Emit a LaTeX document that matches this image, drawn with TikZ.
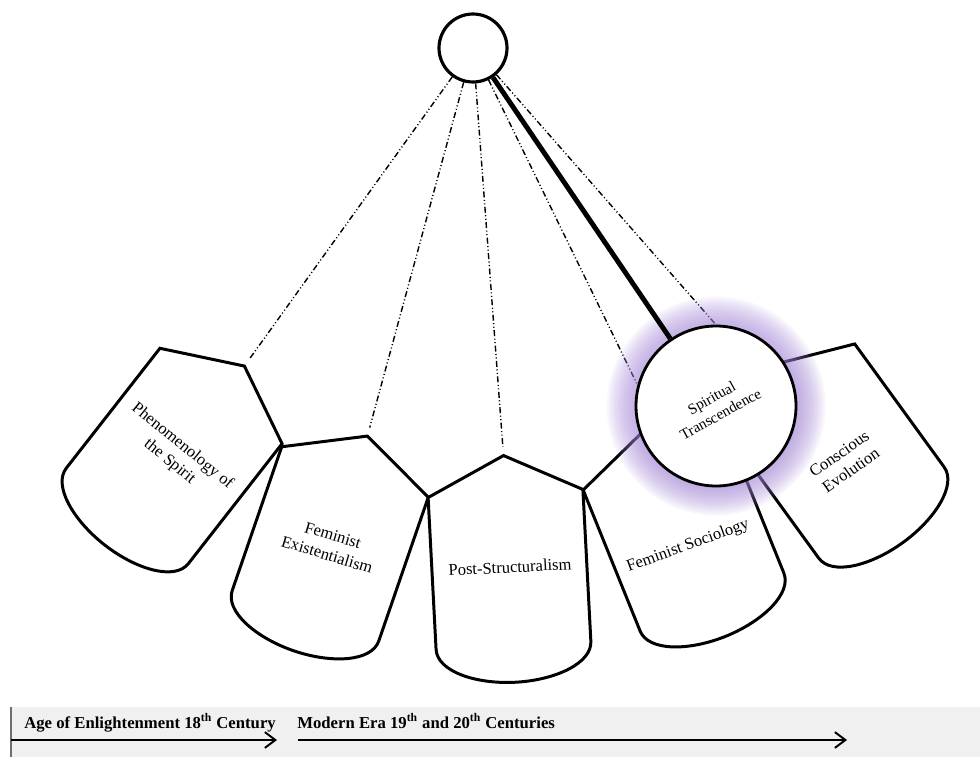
\documentclass[tikz,border=0pt]{standalone}
\usepackage{fontspec}
\setmainfont{Liberation Serif}
\usetikzlibrary{arrows.meta}
\definecolor{glowviolet}{RGB}{165,135,215}
\definecolor{barfill}{RGB}{240,240,240}
\definecolor{barline}{RGB}{110,110,110}
\begin{document}
\begin{tikzpicture}[x=0.02cm, y=-0.02cm,
    cardline/.style={draw, fill=white, line width=1.7pt},
    card/.pic={
      \path[cardline] (-77.5,0) -- (#1,-38) coordinate (-peak) -- (77.5,0) -- (77.5,152)
        .. controls (77.5,174) and (40,189) .. (0,189)
        .. controls (-40,189) and (-77.5,174) .. (-77.5,152) -- cycle;
    },
    cardtext/.style={align=center, inner sep=0pt, font=\fontsize{9.4}{11.5}\selectfont},
    pendline/.style={line width=0.8pt, shorten >=5pt,
      dash pattern=on 3.4pt off 1.4pt on 0.6pt off 1.4pt on 0.6pt off 1.4pt},
    eralabel/.style={anchor=base west, inner sep=0pt, font=\fontsize{9.5}{11}\selectfont\bfseries},
    eraarrow/.style={line width=1.1pt, -{Straight Barb[length=6pt,width=9pt]}}]
  \useasboundingbox (0,0) rectangle (980,757);

  % time bar
  \fill[barfill] (11,707) rectangle (980,757);
  \draw[barline, line width=0.6pt] (11,707) -- (11,757);

  % pivot
  \node[draw, circle, line width=1.8pt, minimum size=1.36cm, inner sep=0pt] (top) at (473,48) {};

  % the cards
  \pic[rotate=-38] (phen) at (221,396) {card=0};
  \pic[rotate=-19] (exist) at (355,472) {card=0};
  \pic[rotate=3] (post) at (505.5,493.5) {card=0};
  \pic[rotate=22] (soc) at (655,461) {card=15};
  \pic[rotate=36] (evol) at (792,389.5) {card=-18};

  \begin{scope}[-]
    \draw[pendline] (top) -- (phen-peak);
    \draw[pendline] (top) -- (exist-peak);
    \draw[pendline] (top) -- (post-peak);
    \draw[pendline] (top) -- (soc-peak);
    \draw[pendline] (top) -- (evol-peak);
  \end{scope}

  % glow round the chosen one
  \coordinate (spirit-c) at (716,406);
  \foreach \i in {1,...,14}
    \fill[glowviolet, opacity=0.07] (spirit-c) circle[radius={1.6cm+0.042cm*\i}];
  \node[draw, circle, fill=white, line width=1.6pt, minimum size=3.2cm, inner sep=0pt,
    align=center, rotate=29, font=\fontsize{8.6}{10.5}\selectfont] (spirit) at (spirit-c)
    {Spiritual\\Transcendence};
  \draw[line width=2.8pt] (top) -- (spirit);

  % card labels
  \node[cardtext, rotate=-39] (phen-label) at (176,454) {Phenomenology of\\the Spirit};
  \node[cardtext, rotate=-17] (exist-label) at (330,545) {Feminist\\Existentialism};
  \node[cardtext, rotate=3] (post-label) at (510,567) {Post-Structuralism};
  \node[cardtext, rotate=20] (soc-label) at (688,546) {Feminist Sociology};
  \node[cardtext, rotate=35] (evol-label) at (845,462) {Conscious\\Evolution};

  % eras
  \node[eralabel] (enl) at (24,728) {Age of Enlightenment 18\textsuperscript{th} Century};
  \node[eralabel] (mod) at (297,728) {Modern Era 19\textsuperscript{th} and 20\textsuperscript{th} Centuries};
  \coordinate (enl-start) at (11,740);
  \coordinate (enl-end) at (277,740);
  \coordinate (mod-start) at (298,740);
  \coordinate (mod-end) at (847,740);
  \draw[eraarrow] (enl-start) -- (enl-end);
  \draw[eraarrow] (mod-start) -- (mod-end);
\end{tikzpicture}
\end{document}
